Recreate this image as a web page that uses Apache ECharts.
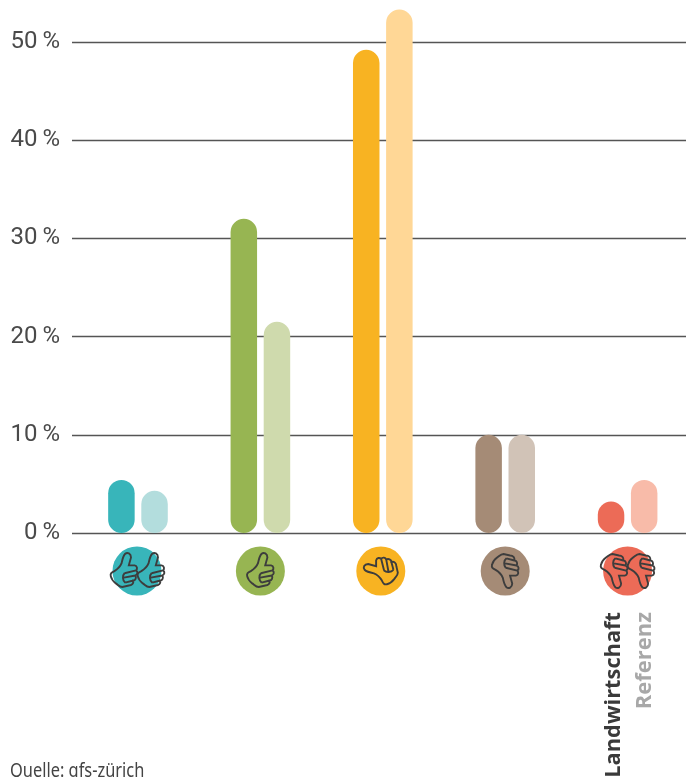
<!DOCTYPE html>
<html><head><meta charset="utf-8">
<style>html,body{margin:0;padding:0;background:#fff;overflow:hidden}#c{width:686px;height:777px}</style>
<script src="https://cdn.jsdelivr.net/npm/echarts@6/dist/echarts.min.js"></script>
</head><body><div id="c"></div>
<script>
const categories = ['sehr zufrieden','zufrieden','teils-teils','unzufrieden','sehr unzufrieden'];
const landwirtschaft = [5.4, 32, 49.2, 10, 3.2];
const referenz = [4.3, 21.5, 53.3, 10, 5.4];
const solidColors = ['#38B5BA','#97B552','#F8B322','#A58B76','#EC6B57'];
const paleColors = ['#B3DDDD','#CFDAAD','#FFD796','#D1C3B7','#F8BBA9'];
const ticks = [0,10,20,30,40,50];
const sourceText = 'Quelle: gfs-zürich';

const handUp = 'path://M50 4C56-1 66 3 66 14L60 36L76 36C84 38 84 46 80 50C86 54 84 62 78 64C82 70 78 78 72 78C74 86 68 92 60 92L42 96C34 96 30 90 24 86C16 80 12 76 10 66C8 58 12 56 20 52C30 46 36 40 40 30C42 20 44 10 50 4ZM48 58L80 50M46 70L78 64M50 84L72 78M48 58C42 64 42 78 50 84';
const handDown = 'path://M50 96C56 101 66 97 66 86L60 64L76 64C84 62 84 54 80 50C86 46 84 38 78 36C82 30 78 22 72 22C74 14 68 8 60 8L42 4C34 4 30 10 24 14C16 20 12 24 10 34C8 42 12 44 20 48C30 54 36 60 40 70C42 80 44 90 50 96ZM48 42L80 50M46 30L78 36M50 16L72 22M48 42C42 36 42 22 50 16';

const handSize = 34, iconDrop = 38;
const circleShift = [-1, 0, -2, 0, 0];
const handMarks = [
  {value:[0,0],symbol:handUp,symbolOffset:[-14,iconDrop-1]},
  {value:[0,0],symbol:handUp,symbolOffset:[13,iconDrop-1]},
  {value:[1,0],symbol:handUp,symbolOffset:[0,iconDrop-1]},
  {value:[2,0],symbol:handUp,symbolRotate:90,symbolOffset:[-2,iconDrop]},
  {value:[3,0],symbol:handDown,symbolOffset:[0,iconDrop]},
  {value:[4,0],symbol:handDown,symbolOffset:[-13.5,iconDrop]},
  {value:[4,0],symbol:handDown,symbolOffset:[13.5,iconDrop]}
];

const barSeries = (name, vals, cols) => ({
  name, type:'bar', clip:false, barWidth:26.5, barGap:'25%', z:3, silent:true,
  data: vals.map((v,i)=>({value:[i,v],itemStyle:{color:cols[i],borderRadius:13.25}}))
});
const chart = echarts.init(document.getElementById('c'),null,{renderer:'canvas'});
chart.setOption({
  animation:false,
  backgroundColor:'#fff',
  grid:{left:72,right:0,top:42,bottom:244},
  xAxis:{type:'value',min:-0.539,max:4.477,show:false,splitLine:{show:false}},
  yAxis:{type:'value',min:0,max:50,interval:10,
      axisLine:{show:false},axisTick:{show:false},
      splitLine:{show:true,lineStyle:{color:'#555',width:1.4}},
      axisLabel:{margin:12,color:'#4a4a4a',fontFamily:'Roboto',fontSize:24,padding:[0,0,4,0],
        formatter:v=>ticks.includes(v)?v+'\u2009%':''}},
  series:[
    barSeries('Landwirtschaft',landwirtschaft,solidColors),
    barSeries('Referenz',referenz,paleColors),
    {type:'scatter',clip:false,silent:true,z:4,
      symbol:'circle',symbolSize:49,
      data:solidColors.map((c,i)=>({value:[i,0],symbolOffset:[circleShift[i],iconDrop],itemStyle:{color:c,opacity:1}}))},
    {type:'scatter',clip:false,silent:true,z:5,
      symbolSize:handSize,symbolKeepAspect:true,
      itemStyle:{color:'rgba(0,0,0,0)',borderColor:'#3d3d3d',borderWidth:1.9,opacity:1},
      data:handMarks}
  ],
  graphic:[
    {type:'text',x:614,y:612,rotation:Math.PI/2,silent:true,
      style:{text:'Landwirtschaft',align:'right',verticalAlign:'middle',fill:'#3a3a3a',
        font:'bold 21.8px "Open Sans"'}},
    {type:'text',x:644.5,y:612,rotation:Math.PI/2,silent:true,
      style:{text:'Referenz',align:'right',verticalAlign:'middle',fill:'#a8a8a8',
        font:'bold 22px "Open Sans"'}},
    {type:'text',x:10,y:771,scaleX:0.82,silent:true,
      style:{text:sourceText,align:'left',verticalAlign:'middle',fill:'#444',
        font:'20px "Noto Sans"'}}
  ]
});
</script></body></html>
